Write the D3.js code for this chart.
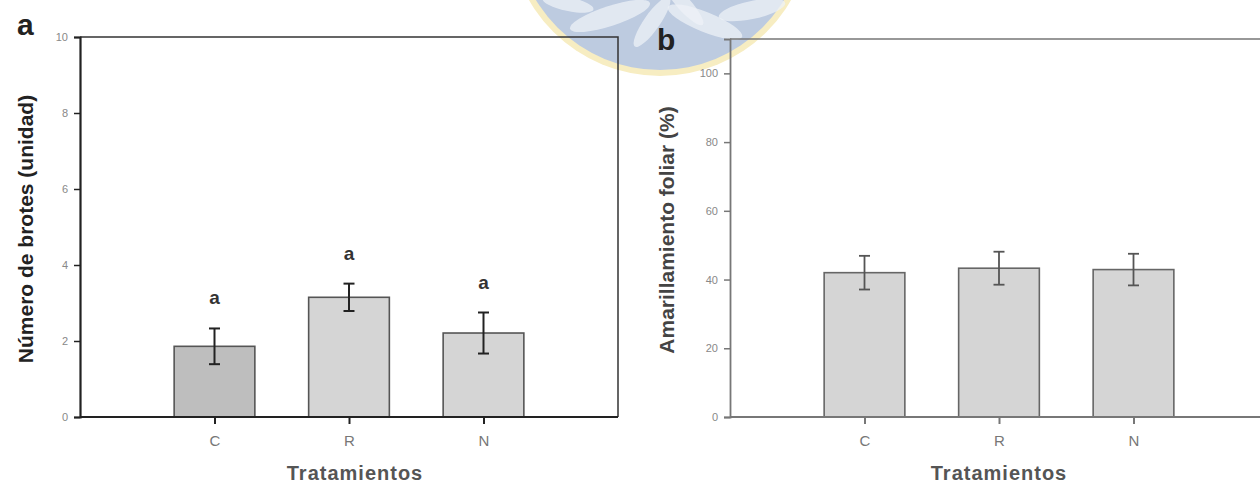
<!DOCTYPE html>
<html>
<head>
<meta charset="utf-8">
<script src="https://cdn.jsdelivr.net/npm/d3@7"></script>
<style>
  html, body { margin: 0; padding: 0; background: #ffffff; overflow: hidden; }
  svg { display: block; font-family: "Liberation Sans", Arial, sans-serif; }
</style>
</head>
<body>
<svg id="fig" width="1260" height="487"></svg>
<script>
// Treatments shared by both panels
const treatments = ["C", "R", "N"];

// Panel a: number of shoots
const shootsMean = [1.86, 3.15, 2.21];
const shootsErr = [0.47, 0.36, 0.54];
const shootsLetters = ["a", "a", "a"];
const shootsTicks = [0, 2, 4, 6, 8, 10];

// Panel b: leaf yellowing (%)
const yellowMean = [42.0, 43.3, 42.9];
const yellowErr = [4.9, 4.8, 4.6];
const yellowTicks = [0, 20, 40, 60, 80, 100];

const svg = d3.select("#fig");

// Institutional seal behind the panels
const seal = svg.append("g").attr("class", "seal");
seal.append("circle")
  .attr("cx", 660).attr("cy", -75).attr("r", 151)
  .attr("fill", "#f7edc2");
seal.append("circle")
  .attr("cx", 660).attr("cy", -75).attr("r", 145)
  .attr("fill", "#bdcbe0");
const leaves = [
  {cx: 610, cy: 16, rx: 42, ry: 10, a: -18},
  {cx: 705, cy: 22, rx: 40, ry: 10, a: 22},
  {cx: 652, cy: 22, rx: 30, ry: 8, a: -55},
  {cx: 752, cy: 10, rx: 34, ry: 9, a: -12},
  {cx: 568, cy: 4, rx: 26, ry: 7, a: 12},
  {cx: 684, cy: 4, rx: 28, ry: 7, a: 48}
];
seal.selectAll("ellipse").data(leaves).join("ellipse")
  .attr("cx", d => d.cx).attr("cy", d => d.cy)
  .attr("rx", d => d.rx).attr("ry", d => d.ry)
  .attr("transform", d => `rotate(${d.a},${d.cx},${d.cy})`)
  .attr("fill", "#eef1f7").attr("opacity", 0.75);

function drawPanel(cfg) {
  const g = svg.append("g");
  const x = d3.scalePoint().domain(treatments).range([cfg.left, cfg.right]).padding(1);
  const y = d3.scaleLinear().domain(cfg.domain).range([cfg.bottom, cfg.top]);
  const bw = x.step() * 0.6;
  const rows = treatments.map((t, i) => ({t, m: cfg.mean[i], e: cfg.err[i], i}));

  // frame (top and right)
  g.append("path")
    .attr("d", `M${cfg.left},${cfg.top}H${cfg.right}V${cfg.bottom}`)
    .attr("fill", "none").attr("stroke", cfg.frame).attr("stroke-width", 1.5);

  // bars
  g.selectAll("rect.bar").data(rows).join("rect")
    .attr("class", "bar")
    .attr("x", d => x(d.t) - bw / 2)
    .attr("width", bw)
    .attr("y", d => y(d.m))
    .attr("height", d => y(0) - y(d.m))
    .attr("fill", d => cfg.fill[d.i])
    .attr("stroke", cfg.barStroke).attr("stroke-width", 1.6);

  // error bars
  const eb = g.selectAll("g.err").data(rows).join("g").attr("class", "err")
    .attr("stroke", cfg.errColor).attr("stroke-width", cfg.errWidth);
  eb.append("line")
    .attr("x1", d => x(d.t)).attr("x2", d => x(d.t))
    .attr("y1", d => y(d.m + d.e)).attr("y2", d => y(d.m - d.e));
  eb.append("line")
    .attr("x1", d => x(d.t) - 5.5).attr("x2", d => x(d.t) + 5.5)
    .attr("y1", d => y(d.m + d.e)).attr("y2", d => y(d.m + d.e));
  eb.append("line")
    .attr("x1", d => x(d.t) - 5.5).attr("x2", d => x(d.t) + 5.5)
    .attr("y1", d => y(d.m - d.e)).attr("y2", d => y(d.m - d.e));

  // significance letters
  if (cfg.letters) {
    g.selectAll("text.sig").data(rows).join("text")
      .attr("class", "sig")
      .attr("x", d => x(d.t))
      .attr("y", d => y(d.m + d.e) - 24)
      .attr("text-anchor", "middle")
      .attr("font-size", 19).attr("font-weight", "bold")
      .attr("fill", "#333")
      .text(d => cfg.letters[d.i]);
  }

  // y axis
  const ya = g.append("g")
    .attr("transform", `translate(${cfg.left},0)`)
    .call(d3.axisLeft(y).tickValues(cfg.ticks).tickSize(6).tickPadding(6).tickFormat(d3.format("d")));
  ya.select(".domain").attr("stroke", cfg.axis).attr("stroke-width", cfg.axisWidth);
  ya.selectAll(".tick line").attr("stroke", cfg.axis).attr("stroke-width", 1.5);
  ya.selectAll(".tick text").attr("font-size", 11).attr("fill", "#888")
    .attr("font-family", "'Liberation Sans', Arial, sans-serif");

  // x axis
  const xa = g.append("g")
    .attr("transform", `translate(0,${cfg.bottom})`)
    .call(d3.axisBottom(x).tickSize(7).tickPadding(11));
  xa.select(".domain").attr("stroke", cfg.axis).attr("stroke-width", cfg.axisWidth)
    .attr("d", `M${cfg.left},0H${cfg.right}`);
  xa.selectAll(".tick line").attr("stroke", cfg.axis).attr("stroke-width", 2);
  xa.selectAll(".tick text").attr("font-size", 15).attr("fill", "#777")
    .attr("font-family", "'Liberation Sans', Arial, sans-serif");

  // axis titles
  g.append("text")
    .attr("transform", `translate(${cfg.ytitleX},${(cfg.top + cfg.bottom) / 2 + 2}) rotate(-90)`)
    .attr("text-anchor", "middle").attr("dy", "0.35em")
    .attr("font-size", 21).attr("font-weight", "bold").attr("fill", cfg.titleColor)
    .text(cfg.ytitle);
  g.append("text")
    .attr("x", cfg.xtitleX).attr("y", 480)
    .attr("text-anchor", "middle")
    .attr("font-size", 20).attr("font-weight", "bold").attr("fill", "#555")
    .attr("letter-spacing", 1)
    .text("Tratamientos");

  // panel letter
  g.append("text")
    .attr("x", cfg.tagX).attr("y", cfg.tagY)
    .attr("font-size", 30).attr("font-weight", "bold").attr("fill", "#222")
    .text(cfg.tag);
}

drawPanel({
  left: 80, right: 618, top: 37, bottom: 417,
  domain: [0, 10], ticks: shootsTicks,
  mean: shootsMean, err: shootsErr, letters: shootsLetters,
  fill: ["#bebebe", "#d5d5d5", "#d5d5d5"],
  barStroke: "#555", errColor: "#222", errWidth: 2,
  axis: "#222", axisWidth: 2.2, frame: "#333",
  ytitle: "Número de brotes (unidad)", ytitleX: 26, titleColor: "#222",
  xtitleX: 355, tag: "a", tagX: 17, tagY: 35
});

drawPanel({
  left: 730, right: 1268, top: 39, bottom: 417,
  domain: [0, 110], ticks: yellowTicks,
  mean: yellowMean, err: yellowErr, letters: null,
  fill: ["#d5d5d5", "#d5d5d5", "#d5d5d5"],
  barStroke: "#666", errColor: "#555", errWidth: 1.8,
  axis: "#777", axisWidth: 1.8, frame: "#777",
  ytitle: "Amarillamiento foliar (%)", ytitleX: 667, titleColor: "#444",
  xtitleX: 999, tag: "b", tagX: 657, tagY: 50
});
</script>
</body>
</html>
